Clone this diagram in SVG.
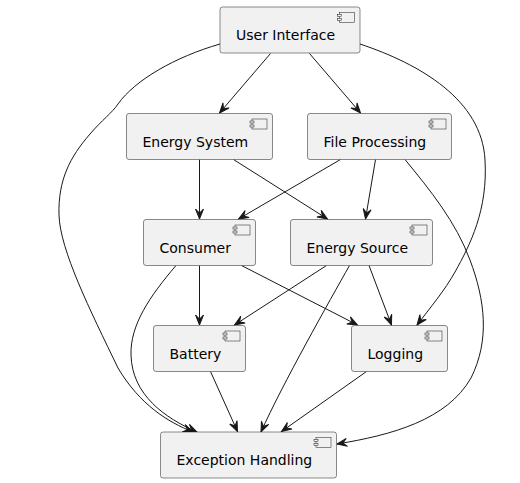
<svg xmlns="http://www.w3.org/2000/svg" xmlns:xlink="http://www.w3.org/1999/xlink" width="520" height="483" viewBox="0 0 520 483">
<style>
.box{fill:#F1F1F1;stroke:#181818;stroke-width:0.5;}
.ico{fill:#F1F1F1;stroke:#181818;stroke-width:0.5;}
.lbl{font-family:"DejaVu Sans","Liberation Sans",sans-serif;font-size:14px;fill:#000000;}
.edge{fill:none;stroke:#181818;stroke-width:1;marker-end:url(#arr);}
</style>
<defs>
<marker id="arr" viewBox="-11 -5 12 10" refX="0" refY="0" markerWidth="12" markerHeight="10" markerUnits="userSpaceOnUse" orient="auto" overflow="visible">
<path d="M0,0 L-10,-4 L-6,0 L-10,4 Z" fill="#181818" stroke="#181818" stroke-width="1" stroke-linejoin="miter"/>
</marker>
<g id="icon">
<rect class="ico" x="-20.5" y="5.5" width="15" height="10"/>
<rect class="ico" x="-22.5" y="7.5" width="4" height="2"/>
<rect class="ico" x="-22.5" y="11.5" width="4" height="2"/>
</g>
</defs>
<g id="connectors">
<path class="edge" d="M270.5,53.5 L219.5,113"/>
<path class="edge" d="M309.5,53.5 L360.5,113"/>
<path class="edge" d="M220,44 C175,57 135,80 118,104 C112,113 102,120 90,134 C70,157 58,180 59,215 C60,250 90,310 118,368 C140,405 168,422 193,432"/>
<path class="edge" d="M360,44 C420,64 482,100 485,160 C488,210 470,245 455,272 C445,290 430,308 417,325"/>
<path class="edge" d="M199.5,159.5 L199.5,219"/>
<path class="edge" d="M233.5,159.5 L327.5,219"/>
<path class="edge" d="M340.5,159.5 L238.5,219"/>
<path class="edge" d="M375.5,159.5 L365.5,219"/>
<path class="edge" d="M405,159.5 C430,190 456,222 470,260 C485,300 490,340 471,378 C447,420 392,435 337,444"/>
<path class="edge" d="M199.5,265.5 L199.5,325"/>
<path class="edge" d="M241.5,265.5 L357.5,325"/>
<path class="edge" d="M176,265.5 C150,296 130,325 131,355 C132,395 165,418 197,432"/>
<path class="edge" d="M326.5,265.5 L234.5,325"/>
<path class="edge" d="M369,265.5 L391.5,325"/>
<path class="edge" d="M349.5,265.5 C330,300 282,385 261,432"/>
<path class="edge" d="M210.5,371.5 L237.5,431.5"/>
<path class="edge" d="M366.5,371.5 L281.5,431.5"/>
</g>
<g id="user-interface">
<rect class="box" x="220" y="7" width="140" height="46" rx="2.5"/>
<use xlink:href="#icon" transform="translate(360,7)"/>
<text class="lbl" x="236" y="40">User Interface</text>
</g>
<g id="energy-system">
<rect class="box" x="126.5" y="113.5" width="146" height="46" rx="2.5"/>
<use xlink:href="#icon" transform="translate(272.5,113.5)"/>
<text class="lbl" x="142.5" y="146.5">Energy System</text>
</g>
<g id="file-processing">
<rect class="box" x="307.5" y="113.5" width="144" height="46" rx="2.5"/>
<use xlink:href="#icon" transform="translate(451.5,113.5)"/>
<text class="lbl" x="323.5" y="146.5">File Processing</text>
</g>
<g id="consumer">
<rect class="box" x="143.5" y="219.5" width="112" height="46" rx="2.5"/>
<use xlink:href="#icon" transform="translate(255.5,219.5)"/>
<text class="lbl" x="159.5" y="252.5">Consumer</text>
</g>
<g id="energy-source">
<rect class="box" x="290.5" y="219.5" width="142" height="46" rx="2.5"/>
<use xlink:href="#icon" transform="translate(432.5,219.5)"/>
<text class="lbl" x="306.5" y="252.5">Energy Source</text>
</g>
<g id="battery">
<rect class="box" x="153.5" y="325.5" width="92" height="46" rx="2.5"/>
<use xlink:href="#icon" transform="translate(245.5,325.5)"/>
<text class="lbl" x="169.5" y="358.5">Battery</text>
</g>
<g id="logging">
<rect class="box" x="351.5" y="325.5" width="96" height="46" rx="2.5"/>
<use xlink:href="#icon" transform="translate(447.5,325.5)"/>
<text class="lbl" x="367.5" y="358.5">Logging</text>
</g>
<g id="exception-handling">
<rect class="box" x="160.5" y="432" width="176" height="46" rx="2.5"/>
<use xlink:href="#icon" transform="translate(336.5,432)"/>
<text class="lbl" x="176.5" y="465">Exception Handling</text>
</g>
</svg>
